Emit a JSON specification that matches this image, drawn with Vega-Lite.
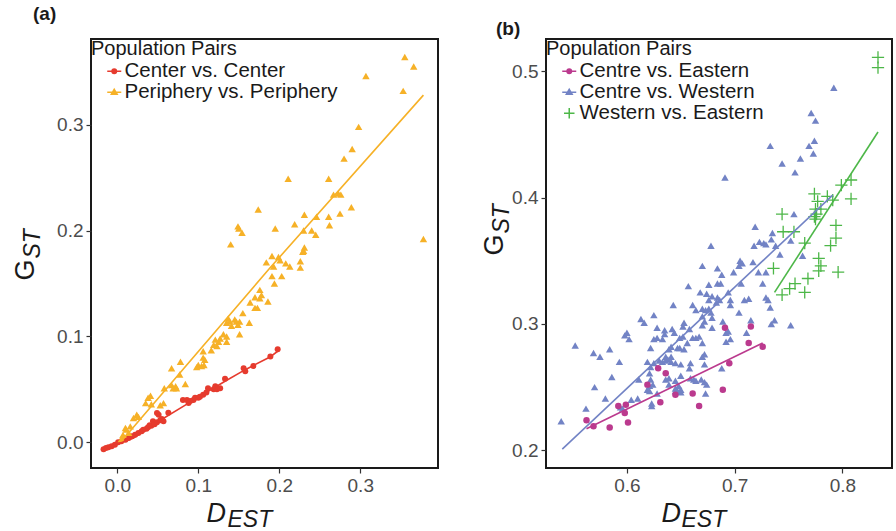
{
  "$schema": "https://vega.github.io/schema/vega-lite/v6.json",
  "background": "white",
  "padding": {"left": 10, "top": 4, "right": 0, "bottom": 0},
  "spacing": 40,
  "datasets": {
    "a_pts": [
      {"pair": "Center vs. Center", "D": -0.017, "G": -0.0065},
      {"pair": "Center vs. Center", "D": -0.014, "G": -0.0054},
      {"pair": "Center vs. Center", "D": -0.011, "G": -0.0047},
      {"pair": "Center vs. Center", "D": -0.007, "G": -0.0038},
      {"pair": "Center vs. Center", "D": -0.003, "G": -0.0023},
      {"pair": "Center vs. Center", "D": 0.001, "G": 0.0},
      {"pair": "Center vs. Center", "D": 0.005, "G": 0.001},
      {"pair": "Center vs. Center", "D": 0.010, "G": 0.0025},
      {"pair": "Center vs. Center", "D": 0.014, "G": 0.004},
      {"pair": "Center vs. Center", "D": 0.018, "G": 0.0057},
      {"pair": "Center vs. Center", "D": 0.022, "G": 0.0072},
      {"pair": "Center vs. Center", "D": 0.026, "G": 0.0088},
      {"pair": "Center vs. Center", "D": 0.030, "G": 0.0104},
      {"pair": "Center vs. Center", "D": 0.032, "G": 0.0119},
      {"pair": "Center vs. Center", "D": 0.036, "G": 0.0128},
      {"pair": "Center vs. Center", "D": 0.038, "G": 0.0142},
      {"pair": "Center vs. Center", "D": 0.040, "G": 0.016},
      {"pair": "Center vs. Center", "D": 0.042, "G": 0.0157},
      {"pair": "Center vs. Center", "D": 0.044, "G": 0.0198},
      {"pair": "Center vs. Center", "D": 0.046, "G": 0.017},
      {"pair": "Center vs. Center", "D": 0.049, "G": 0.0189},
      {"pair": "Center vs. Center", "D": 0.051, "G": 0.026},
      {"pair": "Center vs. Center", "D": 0.053, "G": 0.0208},
      {"pair": "Center vs. Center", "D": 0.055, "G": 0.022},
      {"pair": "Center vs. Center", "D": 0.057, "G": 0.0198},
      {"pair": "Center vs. Center", "D": 0.049, "G": 0.0277},
      {"pair": "Center vs. Center", "D": 0.063, "G": 0.028},
      {"pair": "Center vs. Center", "D": 0.081, "G": 0.040},
      {"pair": "Center vs. Center", "D": 0.086, "G": 0.040},
      {"pair": "Center vs. Center", "D": 0.088, "G": 0.037},
      {"pair": "Center vs. Center", "D": 0.090, "G": 0.039},
      {"pair": "Center vs. Center", "D": 0.094, "G": 0.040},
      {"pair": "Center vs. Center", "D": 0.096, "G": 0.042},
      {"pair": "Center vs. Center", "D": 0.100, "G": 0.042},
      {"pair": "Center vs. Center", "D": 0.102, "G": 0.043},
      {"pair": "Center vs. Center", "D": 0.106, "G": 0.045},
      {"pair": "Center vs. Center", "D": 0.110, "G": 0.047},
      {"pair": "Center vs. Center", "D": 0.112, "G": 0.051},
      {"pair": "Center vs. Center", "D": 0.119, "G": 0.050},
      {"pair": "Center vs. Center", "D": 0.121, "G": 0.053},
      {"pair": "Center vs. Center", "D": 0.123, "G": 0.050},
      {"pair": "Center vs. Center", "D": 0.127, "G": 0.051},
      {"pair": "Center vs. Center", "D": 0.133, "G": 0.060},
      {"pair": "Center vs. Center", "D": 0.156, "G": 0.070},
      {"pair": "Center vs. Center", "D": 0.158, "G": 0.067},
      {"pair": "Center vs. Center", "D": 0.168, "G": 0.072},
      {"pair": "Center vs. Center", "D": 0.189, "G": 0.081},
      {"pair": "Center vs. Center", "D": 0.198, "G": 0.088},
      {"pair": "Periphery vs. Periphery", "D": 0.355, "G": 0.364},
      {"pair": "Periphery vs. Periphery", "D": 0.366, "G": 0.355},
      {"pair": "Periphery vs. Periphery", "D": 0.307, "G": 0.346},
      {"pair": "Periphery vs. Periphery", "D": 0.353, "G": 0.332},
      {"pair": "Periphery vs. Periphery", "D": 0.298, "G": 0.298},
      {"pair": "Periphery vs. Periphery", "D": 0.290, "G": 0.277},
      {"pair": "Periphery vs. Periphery", "D": 0.280, "G": 0.268},
      {"pair": "Periphery vs. Periphery", "D": 0.211, "G": 0.249},
      {"pair": "Periphery vs. Periphery", "D": 0.261, "G": 0.249},
      {"pair": "Periphery vs. Periphery", "D": 0.267, "G": 0.234},
      {"pair": "Periphery vs. Periphery", "D": 0.273, "G": 0.235},
      {"pair": "Periphery vs. Periphery", "D": 0.276, "G": 0.234},
      {"pair": "Periphery vs. Periphery", "D": 0.289, "G": 0.222},
      {"pair": "Periphery vs. Periphery", "D": 0.275, "G": 0.216},
      {"pair": "Periphery vs. Periphery", "D": 0.261, "G": 0.213},
      {"pair": "Periphery vs. Periphery", "D": 0.246, "G": 0.213},
      {"pair": "Periphery vs. Periphery", "D": 0.231, "G": 0.215},
      {"pair": "Periphery vs. Periphery", "D": 0.174, "G": 0.220},
      {"pair": "Periphery vs. Periphery", "D": 0.219, "G": 0.206},
      {"pair": "Periphery vs. Periphery", "D": 0.262, "G": 0.205},
      {"pair": "Periphery vs. Periphery", "D": 0.240, "G": 0.200},
      {"pair": "Periphery vs. Periphery", "D": 0.230, "G": 0.200},
      {"pair": "Periphery vs. Periphery", "D": 0.245, "G": 0.196},
      {"pair": "Periphery vs. Periphery", "D": 0.195, "G": 0.202},
      {"pair": "Periphery vs. Periphery", "D": 0.149, "G": 0.204},
      {"pair": "Periphery vs. Periphery", "D": 0.150, "G": 0.202},
      {"pair": "Periphery vs. Periphery", "D": 0.154, "G": 0.198},
      {"pair": "Periphery vs. Periphery", "D": 0.140, "G": 0.187},
      {"pair": "Periphery vs. Periphery", "D": 0.378, "G": 0.192},
      {"pair": "Periphery vs. Periphery", "D": 0.231, "G": 0.184},
      {"pair": "Periphery vs. Periphery", "D": 0.230, "G": 0.181},
      {"pair": "Periphery vs. Periphery", "D": 0.229, "G": 0.180},
      {"pair": "Periphery vs. Periphery", "D": 0.226, "G": 0.171},
      {"pair": "Periphery vs. Periphery", "D": 0.226, "G": 0.165},
      {"pair": "Periphery vs. Periphery", "D": 0.208, "G": 0.169},
      {"pair": "Periphery vs. Periphery", "D": 0.213, "G": 0.166},
      {"pair": "Periphery vs. Periphery", "D": 0.199, "G": 0.175},
      {"pair": "Periphery vs. Periphery", "D": 0.201, "G": 0.172},
      {"pair": "Periphery vs. Periphery", "D": 0.191, "G": 0.176},
      {"pair": "Periphery vs. Periphery", "D": 0.184, "G": 0.170},
      {"pair": "Periphery vs. Periphery", "D": 0.193, "G": 0.166},
      {"pair": "Periphery vs. Periphery", "D": 0.191, "G": 0.157},
      {"pair": "Periphery vs. Periphery", "D": 0.203, "G": 0.157},
      {"pair": "Periphery vs. Periphery", "D": 0.194, "G": 0.150},
      {"pair": "Periphery vs. Periphery", "D": 0.176, "G": 0.144},
      {"pair": "Periphery vs. Periphery", "D": 0.178, "G": 0.139},
      {"pair": "Periphery vs. Periphery", "D": 0.170, "G": 0.137},
      {"pair": "Periphery vs. Periphery", "D": 0.176, "G": 0.136},
      {"pair": "Periphery vs. Periphery", "D": 0.186, "G": 0.133},
      {"pair": "Periphery vs. Periphery", "D": 0.164, "G": 0.132},
      {"pair": "Periphery vs. Periphery", "D": 0.170, "G": 0.127},
      {"pair": "Periphery vs. Periphery", "D": 0.173, "G": 0.127},
      {"pair": "Periphery vs. Periphery", "D": 0.155, "G": 0.122},
      {"pair": "Periphery vs. Periphery", "D": 0.137, "G": 0.117},
      {"pair": "Periphery vs. Periphery", "D": 0.139, "G": 0.114},
      {"pair": "Periphery vs. Periphery", "D": 0.135, "G": 0.113},
      {"pair": "Periphery vs. Periphery", "D": 0.145, "G": 0.116},
      {"pair": "Periphery vs. Periphery", "D": 0.147, "G": 0.114},
      {"pair": "Periphery vs. Periphery", "D": 0.151, "G": 0.114},
      {"pair": "Periphery vs. Periphery", "D": 0.163, "G": 0.113},
      {"pair": "Periphery vs. Periphery", "D": 0.141, "G": 0.110},
      {"pair": "Periphery vs. Periphery", "D": 0.149, "G": 0.111},
      {"pair": "Periphery vs. Periphery", "D": 0.151, "G": 0.102},
      {"pair": "Periphery vs. Periphery", "D": 0.131, "G": 0.102},
      {"pair": "Periphery vs. Periphery", "D": 0.135, "G": 0.100},
      {"pair": "Periphery vs. Periphery", "D": 0.127, "G": 0.098},
      {"pair": "Periphery vs. Periphery", "D": 0.125, "G": 0.095},
      {"pair": "Periphery vs. Periphery", "D": 0.119, "G": 0.092},
      {"pair": "Periphery vs. Periphery", "D": 0.135, "G": 0.095},
      {"pair": "Periphery vs. Periphery", "D": 0.123, "G": 0.091},
      {"pair": "Periphery vs. Periphery", "D": 0.116, "G": 0.087},
      {"pair": "Periphery vs. Periphery", "D": 0.106, "G": 0.086},
      {"pair": "Periphery vs. Periphery", "D": 0.121, "G": 0.097},
      {"pair": "Periphery vs. Periphery", "D": 0.106, "G": 0.080},
      {"pair": "Periphery vs. Periphery", "D": 0.108, "G": 0.078},
      {"pair": "Periphery vs. Periphery", "D": 0.100, "G": 0.073},
      {"pair": "Periphery vs. Periphery", "D": 0.104, "G": 0.072},
      {"pair": "Periphery vs. Periphery", "D": 0.098, "G": 0.071},
      {"pair": "Periphery vs. Periphery", "D": 0.107, "G": 0.073},
      {"pair": "Periphery vs. Periphery", "D": 0.078, "G": 0.076},
      {"pair": "Periphery vs. Periphery", "D": 0.067, "G": 0.070},
      {"pair": "Periphery vs. Periphery", "D": 0.077, "G": 0.064},
      {"pair": "Periphery vs. Periphery", "D": 0.067, "G": 0.054},
      {"pair": "Periphery vs. Periphery", "D": 0.072, "G": 0.053},
      {"pair": "Periphery vs. Periphery", "D": 0.069, "G": 0.051},
      {"pair": "Periphery vs. Periphery", "D": 0.073, "G": 0.051},
      {"pair": "Periphery vs. Periphery", "D": 0.084, "G": 0.055},
      {"pair": "Periphery vs. Periphery", "D": 0.058, "G": 0.051},
      {"pair": "Periphery vs. Periphery", "D": 0.041, "G": 0.044},
      {"pair": "Periphery vs. Periphery", "D": 0.038, "G": 0.042},
      {"pair": "Periphery vs. Periphery", "D": 0.035, "G": 0.037},
      {"pair": "Periphery vs. Periphery", "D": 0.042, "G": 0.036},
      {"pair": "Periphery vs. Periphery", "D": 0.057, "G": 0.037},
      {"pair": "Periphery vs. Periphery", "D": 0.053, "G": 0.035},
      {"pair": "Periphery vs. Periphery", "D": 0.024, "G": 0.026},
      {"pair": "Periphery vs. Periphery", "D": 0.020, "G": 0.023},
      {"pair": "Periphery vs. Periphery", "D": 0.026, "G": 0.024},
      {"pair": "Periphery vs. Periphery", "D": 0.016, "G": 0.015},
      {"pair": "Periphery vs. Periphery", "D": 0.011, "G": 0.012},
      {"pair": "Periphery vs. Periphery", "D": 0.014, "G": 0.009},
      {"pair": "Periphery vs. Periphery", "D": 0.010, "G": 0.0135},
      {"pair": "Periphery vs. Periphery", "D": 0.007, "G": 0.007},
      {"pair": "Periphery vs. Periphery", "D": 0.005, "G": 0.003}
    ],
    "a_line": [
      {"pair": "Center vs. Center", "D": -0.017, "G": -0.0065},
      {"pair": "Center vs. Center", "D": 0.020, "G": 0.004},
      {"pair": "Center vs. Center", "D": 0.047, "G": 0.018},
      {"pair": "Center vs. Center", "D": 0.088, "G": 0.037},
      {"pair": "Center vs. Center", "D": 0.133, "G": 0.0576},
      {"pair": "Center vs. Center", "D": 0.158, "G": 0.0686},
      {"pair": "Center vs. Center", "D": 0.1885, "G": 0.0805},
      {"pair": "Center vs. Center", "D": 0.198, "G": 0.086},
      {"pair": "Periphery vs. Periphery", "D": 0.005, "G": 0.001},
      {"pair": "Periphery vs. Periphery", "D": 0.190, "G": 0.166},
      {"pair": "Periphery vs. Periphery", "D": 0.378, "G": 0.328}
    ],
    "b_pts": [
      {"pair": "Centre vs. Eastern", "D": 0.5625, "G": 0.2238},
      {"pair": "Centre vs. Eastern", "D": 0.569, "G": 0.219},
      {"pair": "Centre vs. Eastern", "D": 0.584, "G": 0.218},
      {"pair": "Centre vs. Eastern", "D": 0.592, "G": 0.235},
      {"pair": "Centre vs. Eastern", "D": 0.599, "G": 0.236},
      {"pair": "Centre vs. Eastern", "D": 0.598, "G": 0.2295},
      {"pair": "Centre vs. Eastern", "D": 0.601, "G": 0.222},
      {"pair": "Centre vs. Eastern", "D": 0.619, "G": 0.252},
      {"pair": "Centre vs. Eastern", "D": 0.631, "G": 0.238},
      {"pair": "Centre vs. Eastern", "D": 0.645, "G": 0.244},
      {"pair": "Centre vs. Eastern", "D": 0.661, "G": 0.245},
      {"pair": "Centre vs. Eastern", "D": 0.667, "G": 0.235},
      {"pair": "Centre vs. Eastern", "D": 0.629, "G": 0.265},
      {"pair": "Centre vs. Eastern", "D": 0.636, "G": 0.261},
      {"pair": "Centre vs. Eastern", "D": 0.689, "G": 0.248},
      {"pair": "Centre vs. Eastern", "D": 0.695, "G": 0.269},
      {"pair": "Centre vs. Eastern", "D": 0.691, "G": 0.297},
      {"pair": "Centre vs. Eastern", "D": 0.715, "G": 0.298},
      {"pair": "Centre vs. Eastern", "D": 0.713, "G": 0.285},
      {"pair": "Centre vs. Eastern", "D": 0.726, "G": 0.282},
      {"pair": "Centre vs. Western", "D": 0.792, "G": 0.487},
      {"pair": "Centre vs. Western", "D": 0.771, "G": 0.467},
      {"pair": "Centre vs. Western", "D": 0.775, "G": 0.461},
      {"pair": "Centre vs. Western", "D": 0.774, "G": 0.445},
      {"pair": "Centre vs. Western", "D": 0.769, "G": 0.441},
      {"pair": "Centre vs. Western", "D": 0.773, "G": 0.435},
      {"pair": "Centre vs. Western", "D": 0.761, "G": 0.431},
      {"pair": "Centre vs. Western", "D": 0.733, "G": 0.441},
      {"pair": "Centre vs. Western", "D": 0.744, "G": 0.427},
      {"pair": "Centre vs. Western", "D": 0.756, "G": 0.420},
      {"pair": "Centre vs. Western", "D": 0.691, "G": 0.416},
      {"pair": "Centre vs. Western", "D": 0.755, "G": 0.387},
      {"pair": "Centre vs. Western", "D": 0.719, "G": 0.377},
      {"pair": "Centre vs. Western", "D": 0.735, "G": 0.372},
      {"pair": "Centre vs. Western", "D": 0.734, "G": 0.367},
      {"pair": "Centre vs. Western", "D": 0.723, "G": 0.365},
      {"pair": "Centre vs. Western", "D": 0.727, "G": 0.364},
      {"pair": "Centre vs. Western", "D": 0.729, "G": 0.363},
      {"pair": "Centre vs. Western", "D": 0.738, "G": 0.362},
      {"pair": "Centre vs. Western", "D": 0.752, "G": 0.366},
      {"pair": "Centre vs. Western", "D": 0.718, "G": 0.362},
      {"pair": "Centre vs. Western", "D": 0.678, "G": 0.362},
      {"pair": "Centre vs. Western", "D": 0.742, "G": 0.355},
      {"pair": "Centre vs. Western", "D": 0.763, "G": 0.354},
      {"pair": "Centre vs. Western", "D": 0.705, "G": 0.350},
      {"pair": "Centre vs. Western", "D": 0.707, "G": 0.348},
      {"pair": "Centre vs. Western", "D": 0.704, "G": 0.346},
      {"pair": "Centre vs. Western", "D": 0.670, "G": 0.346},
      {"pair": "Centre vs. Western", "D": 0.684, "G": 0.344},
      {"pair": "Centre vs. Western", "D": 0.699, "G": 0.341},
      {"pair": "Centre vs. Western", "D": 0.717, "G": 0.349},
      {"pair": "Centre vs. Western", "D": 0.722, "G": 0.341},
      {"pair": "Centre vs. Western", "D": 0.729, "G": 0.341},
      {"pair": "Centre vs. Western", "D": 0.726, "G": 0.332},
      {"pair": "Centre vs. Western", "D": 0.688, "G": 0.339},
      {"pair": "Centre vs. Western", "D": 0.706, "G": 0.332},
      {"pair": "Centre vs. Western", "D": 0.657, "G": 0.330},
      {"pair": "Centre vs. Western", "D": 0.676, "G": 0.331},
      {"pair": "Centre vs. Western", "D": 0.684, "G": 0.332},
      {"pair": "Centre vs. Western", "D": 0.687, "G": 0.332},
      {"pair": "Centre vs. Western", "D": 0.668, "G": 0.325},
      {"pair": "Centre vs. Western", "D": 0.674, "G": 0.324},
      {"pair": "Centre vs. Western", "D": 0.679, "G": 0.322},
      {"pair": "Centre vs. Western", "D": 0.676, "G": 0.319},
      {"pair": "Centre vs. Western", "D": 0.684, "G": 0.321},
      {"pair": "Centre vs. Western", "D": 0.686, "G": 0.319},
      {"pair": "Centre vs. Western", "D": 0.683, "G": 0.317},
      {"pair": "Centre vs. Western", "D": 0.694, "G": 0.325},
      {"pair": "Centre vs. Western", "D": 0.696, "G": 0.319},
      {"pair": "Centre vs. Western", "D": 0.696, "G": 0.315},
      {"pair": "Centre vs. Western", "D": 0.709, "G": 0.319},
      {"pair": "Centre vs. Western", "D": 0.713, "G": 0.320},
      {"pair": "Centre vs. Western", "D": 0.729, "G": 0.321},
      {"pair": "Centre vs. Western", "D": 0.731, "G": 0.319},
      {"pair": "Centre vs. Western", "D": 0.733, "G": 0.313},
      {"pair": "Centre vs. Western", "D": 0.704, "G": 0.309},
      {"pair": "Centre vs. Western", "D": 0.715, "G": 0.303},
      {"pair": "Centre vs. Western", "D": 0.737, "G": 0.303},
      {"pair": "Centre vs. Western", "D": 0.734, "G": 0.300},
      {"pair": "Centre vs. Western", "D": 0.752, "G": 0.299},
      {"pair": "Centre vs. Western", "D": 0.643, "G": 0.315},
      {"pair": "Centre vs. Western", "D": 0.661, "G": 0.315},
      {"pair": "Centre vs. Western", "D": 0.664, "G": 0.311},
      {"pair": "Centre vs. Western", "D": 0.670, "G": 0.312},
      {"pair": "Centre vs. Western", "D": 0.673, "G": 0.311},
      {"pair": "Centre vs. Western", "D": 0.676, "G": 0.312},
      {"pair": "Centre vs. Western", "D": 0.670, "G": 0.306},
      {"pair": "Centre vs. Western", "D": 0.672, "G": 0.302},
      {"pair": "Centre vs. Western", "D": 0.670, "G": 0.299},
      {"pair": "Centre vs. Western", "D": 0.678, "G": 0.309},
      {"pair": "Centre vs. Western", "D": 0.679, "G": 0.305},
      {"pair": "Centre vs. Western", "D": 0.679, "G": 0.297},
      {"pair": "Centre vs. Western", "D": 0.689, "G": 0.302},
      {"pair": "Centre vs. Western", "D": 0.694, "G": 0.294},
      {"pair": "Centre vs. Western", "D": 0.692, "G": 0.293},
      {"pair": "Centre vs. Western", "D": 0.696, "G": 0.288},
      {"pair": "Centre vs. Western", "D": 0.692, "G": 0.286},
      {"pair": "Centre vs. Western", "D": 0.711, "G": 0.293},
      {"pair": "Centre vs. Western", "D": 0.653, "G": 0.301},
      {"pair": "Centre vs. Western", "D": 0.652, "G": 0.298},
      {"pair": "Centre vs. Western", "D": 0.658, "G": 0.296},
      {"pair": "Centre vs. Western", "D": 0.664, "G": 0.289},
      {"pair": "Centre vs. Western", "D": 0.661, "G": 0.289},
      {"pair": "Centre vs. Western", "D": 0.667, "G": 0.290},
      {"pair": "Centre vs. Western", "D": 0.656, "G": 0.285},
      {"pair": "Centre vs. Western", "D": 0.647, "G": 0.281},
      {"pair": "Centre vs. Western", "D": 0.639, "G": 0.280},
      {"pair": "Centre vs. Western", "D": 0.638, "G": 0.272},
      {"pair": "Centre vs. Western", "D": 0.641, "G": 0.274},
      {"pair": "Centre vs. Western", "D": 0.642, "G": 0.296},
      {"pair": "Centre vs. Western", "D": 0.644, "G": 0.293},
      {"pair": "Centre vs. Western", "D": 0.635, "G": 0.295},
      {"pair": "Centre vs. Western", "D": 0.635, "G": 0.292},
      {"pair": "Centre vs. Western", "D": 0.628, "G": 0.297},
      {"pair": "Centre vs. Western", "D": 0.625, "G": 0.307},
      {"pair": "Centre vs. Western", "D": 0.613, "G": 0.304},
      {"pair": "Centre vs. Western", "D": 0.616, "G": 0.301},
      {"pair": "Centre vs. Western", "D": 0.628, "G": 0.289},
      {"pair": "Centre vs. Western", "D": 0.625, "G": 0.288},
      {"pair": "Centre vs. Western", "D": 0.633, "G": 0.288},
      {"pair": "Centre vs. Western", "D": 0.649, "G": 0.289},
      {"pair": "Centre vs. Western", "D": 0.652, "G": 0.290},
      {"pair": "Centre vs. Western", "D": 0.636, "G": 0.274},
      {"pair": "Centre vs. Western", "D": 0.641, "G": 0.270},
      {"pair": "Centre vs. Western", "D": 0.645, "G": 0.269},
      {"pair": "Centre vs. Western", "D": 0.650, "G": 0.268},
      {"pair": "Centre vs. Western", "D": 0.633, "G": 0.270},
      {"pair": "Centre vs. Western", "D": 0.636, "G": 0.271},
      {"pair": "Centre vs. Western", "D": 0.630, "G": 0.271},
      {"pair": "Centre vs. Western", "D": 0.625, "G": 0.269},
      {"pair": "Centre vs. Western", "D": 0.619, "G": 0.270},
      {"pair": "Centre vs. Western", "D": 0.621, "G": 0.261},
      {"pair": "Centre vs. Western", "D": 0.622, "G": 0.256},
      {"pair": "Centre vs. Western", "D": 0.636, "G": 0.256},
      {"pair": "Centre vs. Western", "D": 0.639, "G": 0.257},
      {"pair": "Centre vs. Western", "D": 0.645, "G": 0.255},
      {"pair": "Centre vs. Western", "D": 0.650, "G": 0.259},
      {"pair": "Centre vs. Western", "D": 0.659, "G": 0.269},
      {"pair": "Centre vs. Western", "D": 0.658, "G": 0.265},
      {"pair": "Centre vs. Western", "D": 0.672, "G": 0.268},
      {"pair": "Centre vs. Western", "D": 0.659, "G": 0.257},
      {"pair": "Centre vs. Western", "D": 0.662, "G": 0.256},
      {"pair": "Centre vs. Western", "D": 0.664, "G": 0.255},
      {"pair": "Centre vs. Western", "D": 0.672, "G": 0.254},
      {"pair": "Centre vs. Western", "D": 0.674, "G": 0.252},
      {"pair": "Centre vs. Western", "D": 0.673, "G": 0.245},
      {"pair": "Centre vs. Western", "D": 0.669, "G": 0.256},
      {"pair": "Centre vs. Western", "D": 0.688, "G": 0.265},
      {"pair": "Centre vs. Western", "D": 0.670, "G": 0.274},
      {"pair": "Centre vs. Western", "D": 0.611, "G": 0.256},
      {"pair": "Centre vs. Western", "D": 0.621, "G": 0.251},
      {"pair": "Centre vs. Western", "D": 0.624, "G": 0.252},
      {"pair": "Centre vs. Western", "D": 0.639, "G": 0.252},
      {"pair": "Centre vs. Western", "D": 0.645, "G": 0.249},
      {"pair": "Centre vs. Western", "D": 0.648, "G": 0.251},
      {"pair": "Centre vs. Western", "D": 0.650, "G": 0.248},
      {"pair": "Centre vs. Western", "D": 0.645, "G": 0.247},
      {"pair": "Centre vs. Western", "D": 0.647, "G": 0.247},
      {"pair": "Centre vs. Western", "D": 0.650, "G": 0.246},
      {"pair": "Centre vs. Western", "D": 0.628, "G": 0.245},
      {"pair": "Centre vs. Western", "D": 0.621, "G": 0.247},
      {"pair": "Centre vs. Western", "D": 0.619, "G": 0.248},
      {"pair": "Centre vs. Western", "D": 0.610, "G": 0.241},
      {"pair": "Centre vs. Western", "D": 0.604, "G": 0.240},
      {"pair": "Centre vs. Western", "D": 0.623, "G": 0.237},
      {"pair": "Centre vs. Western", "D": 0.623, "G": 0.235},
      {"pair": "Centre vs. Western", "D": 0.580, "G": 0.241},
      {"pair": "Centre vs. Western", "D": 0.594, "G": 0.234},
      {"pair": "Centre vs. Western", "D": 0.596, "G": 0.233},
      {"pair": "Centre vs. Western", "D": 0.562, "G": 0.233},
      {"pair": "Centre vs. Western", "D": 0.570, "G": 0.250},
      {"pair": "Centre vs. Western", "D": 0.586, "G": 0.258},
      {"pair": "Centre vs. Western", "D": 0.593, "G": 0.270},
      {"pair": "Centre vs. Western", "D": 0.575, "G": 0.274},
      {"pair": "Centre vs. Western", "D": 0.569, "G": 0.277},
      {"pair": "Centre vs. Western", "D": 0.584, "G": 0.280},
      {"pair": "Centre vs. Western", "D": 0.552, "G": 0.283},
      {"pair": "Centre vs. Western", "D": 0.539, "G": 0.223},
      {"pair": "Centre vs. Western", "D": 0.598, "G": 0.291},
      {"pair": "Centre vs. Western", "D": 0.600, "G": 0.293},
      {"pair": "Centre vs. Western", "D": 0.602, "G": 0.288},
      {"pair": "Centre vs. Western", "D": 0.622, "G": 0.281},
      {"pair": "Centre vs. Western", "D": 0.622, "G": 0.266},
      {"pair": "Centre vs. Western", "D": 0.641, "G": 0.282},
      {"pair": "Centre vs. Western", "D": 0.649, "G": 0.281},
      {"pair": "Centre vs. Western", "D": 0.653, "G": 0.280},
      {"pair": "Centre vs. Western", "D": 0.670, "G": 0.285},
      {"pair": "Centre vs. Western", "D": 0.672, "G": 0.276},
      {"pair": "Western vs. Eastern", "D": 0.833, "G": 0.511},
      {"pair": "Western vs. Eastern", "D": 0.833, "G": 0.503},
      {"pair": "Western vs. Eastern", "D": 0.799, "G": 0.410},
      {"pair": "Western vs. Eastern", "D": 0.808, "G": 0.414},
      {"pair": "Western vs. Eastern", "D": 0.808, "G": 0.399},
      {"pair": "Western vs. Eastern", "D": 0.774, "G": 0.403},
      {"pair": "Western vs. Eastern", "D": 0.786, "G": 0.401},
      {"pair": "Western vs. Eastern", "D": 0.777, "G": 0.397},
      {"pair": "Western vs. Eastern", "D": 0.791, "G": 0.398},
      {"pair": "Western vs. Eastern", "D": 0.775, "G": 0.391},
      {"pair": "Western vs. Eastern", "D": 0.780, "G": 0.391},
      {"pair": "Western vs. Eastern", "D": 0.776, "G": 0.387},
      {"pair": "Western vs. Eastern", "D": 0.744, "G": 0.387},
      {"pair": "Western vs. Eastern", "D": 0.794, "G": 0.378},
      {"pair": "Western vs. Eastern", "D": 0.745, "G": 0.373},
      {"pair": "Western vs. Eastern", "D": 0.755, "G": 0.373},
      {"pair": "Western vs. Eastern", "D": 0.794, "G": 0.368},
      {"pair": "Western vs. Eastern", "D": 0.765, "G": 0.364},
      {"pair": "Western vs. Eastern", "D": 0.789, "G": 0.362},
      {"pair": "Western vs. Eastern", "D": 0.774, "G": 0.385},
      {"pair": "Western vs. Eastern", "D": 0.775, "G": 0.383},
      {"pair": "Western vs. Eastern", "D": 0.778, "G": 0.352},
      {"pair": "Western vs. Eastern", "D": 0.780, "G": 0.346},
      {"pair": "Western vs. Eastern", "D": 0.778, "G": 0.342},
      {"pair": "Western vs. Eastern", "D": 0.796, "G": 0.341},
      {"pair": "Western vs. Eastern", "D": 0.768, "G": 0.336},
      {"pair": "Western vs. Eastern", "D": 0.756, "G": 0.332},
      {"pair": "Western vs. Eastern", "D": 0.751, "G": 0.328},
      {"pair": "Western vs. Eastern", "D": 0.765, "G": 0.325},
      {"pair": "Western vs. Eastern", "D": 0.744, "G": 0.323},
      {"pair": "Western vs. Eastern", "D": 0.736, "G": 0.344}
    ],
    "b_line": [
      {"pair": "Centre vs. Eastern", "D": 0.5625, "G": 0.217},
      {"pair": "Centre vs. Eastern", "D": 0.726, "G": 0.285},
      {"pair": "Centre vs. Western", "D": 0.540, "G": 0.201},
      {"pair": "Centre vs. Western", "D": 0.791, "G": 0.402},
      {"pair": "Western vs. Eastern", "D": 0.737, "G": 0.325},
      {"pair": "Western vs. Eastern", "D": 0.833, "G": 0.452}
    ]
  },
  "hconcat": [
    {
      "width": 347,
      "height": 429,
      "title": {"text": "(a)", "anchor": "start", "frame": "bounds", "baseline": "alphabetic", "offset": 0, "dx": 22, "fontSize": 19, "fontWeight": "bold", "font": "Liberation Sans", "color": "#1a1a1a"},
      "layer": [
        {
          "data": {"name": "a_pts"},
          "transform": [{"filter": {"field": "pair", "equal": "Center vs. Center"}}],
          "mark": {"type": "point", "shape": "circle", "filled": true, "size": 36, "opacity": 1},
          "encoding": {
            "x": {"field": "D", "type": "quantitative", "scale": {"domain": [-0.0325, 0.396], "nice": false, "zero": false},
                  "axis": {"orient": "bottom", "title": "D", "values": [0, 0.1, 0.2, 0.3], "format": ".1f", "titleFontSize": 27, "titleFontStyle": "italic", "titleX": 115, "titleY": 53, "titleAlign": "left", "titleBaseline": "alphabetic"}},
            "y": {"field": "G", "type": "quantitative", "scale": {"domain": [-0.0243, 0.381], "nice": false, "zero": false},
                  "axis": {"orient": "left", "title": "G", "values": [0, 0.1, 0.2, 0.3], "format": ".1f", "titleFontSize": 27, "titleX": -58, "titleY": 241, "titleAlign": "left", "titleBaseline": "alphabetic", "titleAngle": -90}},
            "color": {"field": "pair", "type": "nominal",
                      "scale": {"domain": ["Center vs. Center", "Periphery vs. Periphery"], "range": ["#E63B2E", "#F6B127"]},
                      "legend": {"title": "Population Pairs", "orient": "top-left", "symbolOffset": 13,
                                 "encode": {"symbols": {"update": {
                                   "shape": {"signal": "datum.value === 'Center vs. Center' ? 'M-1,0H1M-0.32,0A0.32,0.32,0,1,1,0.32,0A0.32,0.32,0,1,1,-0.32,0Z' : 'M-1,0H1M0,-0.42L0.42,0.3L-0.42,0.3Z'"},
                                   "fill": {"signal": "datum.value === 'Center vs. Center' ? '#E63B2E' : '#F6B127'"},
                                   "stroke": {"signal": "datum.value === 'Center vs. Center' ? '#E63B2E' : '#F6B127'"},
                                   "strokeWidth": {"value": 1.5},
                                   "opacity": {"value": 1}
                                 }}}}}
          }
        },
        {
          "data": {"name": "a_pts"},
          "transform": [{"filter": {"field": "pair", "equal": "Periphery vs. Periphery"}}],
          "mark": {"type": "point", "shape": "triangle-up", "filled": true, "size": 55, "opacity": 1},
          "encoding": {
            "x": {"field": "D", "type": "quantitative", "axis": null},
            "y": {"field": "G", "type": "quantitative", "axis": null},
            "color": {"field": "pair", "type": "nominal",
                      "legend": {"title": "Population Pairs", "orient": "top-left", "symbolOffset": 13,
                                 "encode": {"symbols": {"update": {
                                   "shape": {"signal": "datum.value === 'Center vs. Center' ? 'M-1,0H1M-0.32,0A0.32,0.32,0,1,1,0.32,0A0.32,0.32,0,1,1,-0.32,0Z' : 'M-1,0H1M0,-0.42L0.42,0.3L-0.42,0.3Z'"},
                                   "fill": {"signal": "datum.value === 'Center vs. Center' ? '#E63B2E' : '#F6B127'"},
                                   "stroke": {"signal": "datum.value === 'Center vs. Center' ? '#E63B2E' : '#F6B127'"},
                                   "strokeWidth": {"value": 1.5},
                                   "opacity": {"value": 1}
                                 }}}}}
          }
        },
        {
          "data": {"name": "a_line"},
          "mark": {"type": "line", "strokeWidth": 1.6},
          "encoding": {
            "x": {"field": "D", "type": "quantitative",
                  "axis": {"orient": "bottom", "title": "EST", "labels": false, "ticks": false, "domain": false, "grid": false, "titleFontSize": 23, "titleFontStyle": "italic", "titleX": 136, "titleY": 58, "titleAlign": "left", "titleBaseline": "alphabetic"}},
            "y": {"field": "G", "type": "quantitative",
                  "axis": {"orient": "left", "title": "ST", "labels": false, "ticks": false, "domain": false, "grid": false, "titleFontSize": 23, "titleFontStyle": "italic", "titleX": -52, "titleY": 219, "titleAlign": "left", "titleBaseline": "alphabetic", "titleAngle": -90}},
            "color": {"field": "pair", "type": "nominal",
                      "legend": {"title": "Population Pairs", "orient": "top-left", "symbolOffset": 13,
                                 "encode": {"symbols": {"update": {
                                   "shape": {"signal": "datum.value === 'Center vs. Center' ? 'M-1,0H1M-0.32,0A0.32,0.32,0,1,1,0.32,0A0.32,0.32,0,1,1,-0.32,0Z' : 'M-1,0H1M0,-0.42L0.42,0.3L-0.42,0.3Z'"},
                                   "fill": {"signal": "datum.value === 'Center vs. Center' ? '#E63B2E' : '#F6B127'"},
                                   "stroke": {"signal": "datum.value === 'Center vs. Center' ? '#E63B2E' : '#F6B127'"},
                                   "strokeWidth": {"value": 1.5},
                                   "opacity": {"value": 1}
                                 }}}}}
          }
        }
      ],
      "resolve": {"axis": {"x": "independent", "y": "independent"}}
    },
    {
      "width": 346,
      "height": 429,
      "title": {"text": "(b)", "anchor": "start", "frame": "bounds", "baseline": "alphabetic", "offset": -15, "dx": 16, "fontSize": 19, "fontWeight": "bold", "font": "Liberation Sans", "color": "#1a1a1a"},
      "layer": [
        {
          "data": {"name": "b_pts"},
          "transform": [{"filter": {"field": "pair", "equal": "Centre vs. Western"}}],
          "mark": {"type": "point", "shape": "triangle-up", "filled": true, "size": 55, "opacity": 1},
          "encoding": {
            "x": {"field": "D", "type": "quantitative", "scale": {"domain": [0.5249, 0.846], "nice": false, "zero": false},
                  "axis": {"orient": "bottom", "title": "D", "values": [0.6, 0.7, 0.8], "format": ".1f", "titleFontSize": 27, "titleFontStyle": "italic", "titleX": 115, "titleY": 53, "titleAlign": "left", "titleBaseline": "alphabetic"}},
            "y": {"field": "G", "type": "quantitative", "scale": {"domain": [0.186, 0.5256], "nice": false, "zero": false},
                  "axis": {"orient": "left", "title": "G", "values": [0.2, 0.3, 0.4, 0.5], "format": ".1f", "titleFontSize": 27, "titleX": -44, "titleY": 216, "titleAlign": "left", "titleBaseline": "alphabetic", "titleAngle": -90}},
            "color": {"field": "pair", "type": "nominal",
                      "scale": {"domain": ["Centre vs. Eastern", "Centre vs. Western", "Western vs. Eastern"], "range": ["#BB3A8E", "#7283C5", "#4DB748"]},
                      "legend": {"title": "Population Pairs", "orient": "top-left", "symbolOffset": 13,
                                 "encode": {"symbols": {"update": {
                                   "shape": {"signal": "datum.value === 'Centre vs. Eastern' ? 'M-1,0H1M-0.32,0A0.32,0.32,0,1,1,0.32,0A0.32,0.32,0,1,1,-0.32,0Z' : datum.value === 'Centre vs. Western' ? 'M-1,0H1M0,-0.42L0.42,0.3L-0.42,0.3Z' : 'M-0.75,0H0.75M0,-0.75V0.75'"},
                                   "fill": {"signal": "datum.value === 'Centre vs. Eastern' ? '#BB3A8E' : datum.value === 'Centre vs. Western' ? '#7283C5' : '#4DB748'"},
                                   "stroke": {"signal": "datum.value === 'Centre vs. Eastern' ? '#BB3A8E' : datum.value === 'Centre vs. Western' ? '#7283C5' : '#4DB748'"},
                                   "strokeWidth": {"value": 1.5},
                                   "opacity": {"value": 1}
                                 }}}}}
          }
        },
        {
          "data": {"name": "b_pts"},
          "transform": [{"filter": {"field": "pair", "equal": "Centre vs. Eastern"}}],
          "mark": {"type": "point", "shape": "circle", "filled": true, "size": 42, "opacity": 1},
          "encoding": {
            "x": {"field": "D", "type": "quantitative", "axis": null},
            "y": {"field": "G", "type": "quantitative", "axis": null},
            "color": {"field": "pair", "type": "nominal",
                      "legend": {"title": "Population Pairs", "orient": "top-left", "symbolOffset": 13,
                                 "encode": {"symbols": {"update": {
                                   "shape": {"signal": "datum.value === 'Centre vs. Eastern' ? 'M-1,0H1M-0.32,0A0.32,0.32,0,1,1,0.32,0A0.32,0.32,0,1,1,-0.32,0Z' : datum.value === 'Centre vs. Western' ? 'M-1,0H1M0,-0.42L0.42,0.3L-0.42,0.3Z' : 'M-0.75,0H0.75M0,-0.75V0.75'"},
                                   "fill": {"signal": "datum.value === 'Centre vs. Eastern' ? '#BB3A8E' : datum.value === 'Centre vs. Western' ? '#7283C5' : '#4DB748'"},
                                   "stroke": {"signal": "datum.value === 'Centre vs. Eastern' ? '#BB3A8E' : datum.value === 'Centre vs. Western' ? '#7283C5' : '#4DB748'"},
                                   "strokeWidth": {"value": 1.5},
                                   "opacity": {"value": 1}
                                 }}}}}
          }
        },
        {
          "data": {"name": "b_pts"},
          "transform": [{"filter": {"field": "pair", "equal": "Western vs. Eastern"}}],
          "mark": {"type": "point", "shape": "M-1,0H1M0,-1V1", "filled": false, "size": 150, "strokeWidth": 1.3, "opacity": 1},
          "encoding": {
            "x": {"field": "D", "type": "quantitative", "axis": null},
            "y": {"field": "G", "type": "quantitative", "axis": null},
            "color": {"field": "pair", "type": "nominal",
                      "legend": {"title": "Population Pairs", "orient": "top-left", "symbolOffset": 13,
                                 "encode": {"symbols": {"update": {
                                   "shape": {"signal": "datum.value === 'Centre vs. Eastern' ? 'M-1,0H1M-0.32,0A0.32,0.32,0,1,1,0.32,0A0.32,0.32,0,1,1,-0.32,0Z' : datum.value === 'Centre vs. Western' ? 'M-1,0H1M0,-0.42L0.42,0.3L-0.42,0.3Z' : 'M-0.75,0H0.75M0,-0.75V0.75'"},
                                   "fill": {"signal": "datum.value === 'Centre vs. Eastern' ? '#BB3A8E' : datum.value === 'Centre vs. Western' ? '#7283C5' : '#4DB748'"},
                                   "stroke": {"signal": "datum.value === 'Centre vs. Eastern' ? '#BB3A8E' : datum.value === 'Centre vs. Western' ? '#7283C5' : '#4DB748'"},
                                   "strokeWidth": {"value": 1.5},
                                   "opacity": {"value": 1}
                                 }}}}}
          }
        },
        {
          "data": {"name": "b_line"},
          "mark": {"type": "line", "strokeWidth": 1.6},
          "encoding": {
            "x": {"field": "D", "type": "quantitative",
                  "axis": {"orient": "bottom", "title": "EST", "labels": false, "ticks": false, "domain": false, "grid": false, "titleFontSize": 23, "titleFontStyle": "italic", "titleX": 135, "titleY": 58, "titleAlign": "left", "titleBaseline": "alphabetic"}},
            "y": {"field": "G", "type": "quantitative",
                  "axis": {"orient": "left", "title": "ST", "labels": false, "ticks": false, "domain": false, "grid": false, "titleFontSize": 23, "titleFontStyle": "italic", "titleX": -38, "titleY": 194, "titleAlign": "left", "titleBaseline": "alphabetic", "titleAngle": -90}},
            "color": {"field": "pair", "type": "nominal",
                      "legend": {"title": "Population Pairs", "orient": "top-left", "symbolOffset": 13,
                                 "encode": {"symbols": {"update": {
                                   "shape": {"signal": "datum.value === 'Centre vs. Eastern' ? 'M-1,0H1M-0.32,0A0.32,0.32,0,1,1,0.32,0A0.32,0.32,0,1,1,-0.32,0Z' : datum.value === 'Centre vs. Western' ? 'M-1,0H1M0,-0.42L0.42,0.3L-0.42,0.3Z' : 'M-0.75,0H0.75M0,-0.75V0.75'"},
                                   "fill": {"signal": "datum.value === 'Centre vs. Eastern' ? '#BB3A8E' : datum.value === 'Centre vs. Western' ? '#7283C5' : '#4DB748'"},
                                   "stroke": {"signal": "datum.value === 'Centre vs. Eastern' ? '#BB3A8E' : datum.value === 'Centre vs. Western' ? '#7283C5' : '#4DB748'"},
                                   "strokeWidth": {"value": 1.5},
                                   "opacity": {"value": 1}
                                 }}}}}
          }
        }
      ],
      "resolve": {"axis": {"x": "independent", "y": "independent"}}
    }
  ],
  "resolve": {"scale": {"color": "independent"}, "legend": {"color": "independent"}},
  "config": {
    "font": "Liberation Sans",
    "view": {"stroke": "#1a1a1a", "strokeWidth": 2},
    "axis": {"grid": false, "domain": false, "labelFont": "Liberation Sans", "labelFontSize": 19, "labelColor": "#4D4D4D", "tickColor": "#333333", "tickSize": 5, "tickWidth": 1.2, "labelPadding": 3, "titleFont": "Liberation Sans", "titleColor": "#1a1a1a", "titleFontWeight": "normal"},
    "legend": {"offset": 0, "padding": 0, "titleFont": "Liberation Sans", "labelFont": "Liberation Sans", "titleFontSize": 20, "labelFontSize": 20.5, "labelLimit": 400, "titleFontWeight": "normal", "titleColor": "#1a1a1a", "labelColor": "#1a1a1a", "rowPadding": 0, "titlePadding": 2, "symbolSize": 196, "symbolStrokeWidth": 1.5, "labelOffset": 0}
  }
}
